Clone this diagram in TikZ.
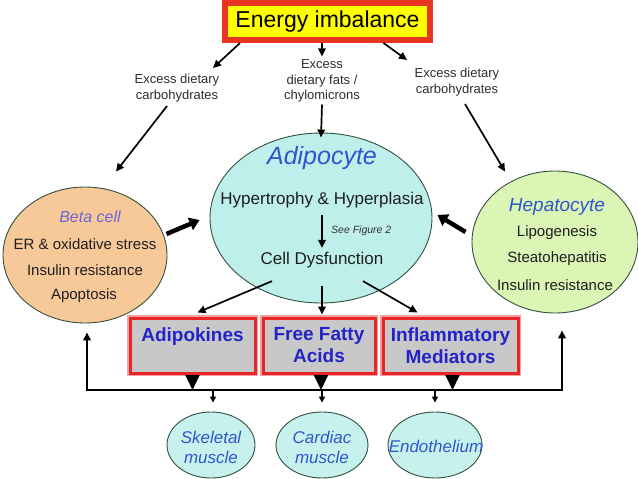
\documentclass[tikz,border=0pt]{standalone}
\usepackage{fontspec}
\setmainfont{Liberation Sans}
\usetikzlibrary{arrows.meta,shapes.geometric,calc}
\definecolor{ered}{RGB}{232,52,32}
\definecolor{eyellow}{RGB}{255,255,0}
\definecolor{peach}{RGB}{248,201,152}
\definecolor{adipfill}{RGB}{190,239,234}
\definecolor{hepfill}{RGB}{218,245,180}
\definecolor{musfill}{RGB}{198,241,236}
\definecolor{cellline}{RGB}{50,80,65}
\definecolor{boxgray}{RGB}{200,200,200}
\definecolor{boxred}{RGB}{232,38,42}
\definecolor{boxglow}{RGB}{245,160,160}
\definecolor{boxblue}{RGB}{35,35,200}
\definecolor{titleblue}{RGB}{50,85,205}
\definecolor{betablue}{RGB}{105,100,215}
\definecolor{exgray}{RGB}{45,45,45}
\begin{document}
\begin{tikzpicture}[x=1pt,y=-1pt,
  txt/.style={inner sep=0pt, align=center},
  exlbl/.style={txt, text=exgray, font=\fontsize{13}{15.5}\selectfont},
  body/.style={txt, text=black!88, font=\fontsize{15}{18}\selectfont},
  cell/.style={ellipse, draw=cellline, line width=0.9pt, inner sep=0pt},
  arr/.style={line width=1.7pt, -{Triangle[length=8pt,width=7.5pt]}},
  thickarr/.style={line width=4.5pt, -{Triangle[length=10pt,width=13pt]}},
  boxarr/.style={line width=1.8pt, -{Triangle[length=15pt,width=14pt]}},
  smallarr/.style={line width=1.4pt, -{Triangle[length=6pt,width=6pt]}},
  medbox/.style={draw=boxred, line width=3pt, fill=boxgray, inner sep=0pt,
     minimum height=55pt, align=center, text=boxblue,
     font=\bfseries\fontsize{19}{22}\selectfont,
     preaction={draw=boxglow, line width=6pt}},
  musc/.style={cell, fill=musfill, minimum height=66pt},
  musctxt/.style={txt, text=titleblue, font=\itshape\fontsize{17}{20}\selectfont}
]
\useasboundingbox (0,0) rectangle (638,479);

% top box
\node[draw=ered, line width=6pt, fill=eyellow, minimum width=205pt, minimum height=37pt,
      inner sep=0pt, font=\fontsize{23}{26}\selectfont] (energy) at (327.5,21.5) {Energy imbalance};

% excess labels
\node[exlbl] (ex1) at (177,88) {Excess dietary\\carbohydrates};
\node[exlbl] (ex2) at (322,81) {Excess\\dietary fats /\\chylomicrons};
\node[exlbl] (ex3) at (457,82) {Excess dietary\\carbohydrates};

% cells
\node[cell, fill=adipfill, minimum width=222pt, minimum height=170pt] (adip) at (321,218) {};
\node[cell, fill=peach, minimum width=164pt, minimum height=136pt] (beta) at (85,255) {};
\node[cell, fill=hepfill, minimum width=166pt, minimum height=142pt] (hep) at (555,242) {};

% adipocyte text
\node[txt, text=titleblue, font=\itshape\fontsize{25}{28}\selectfont] (adiptitle) at (322,158) {Adipocyte};
\node[txt, text=black!88, font=\fontsize{17}{20}\selectfont] (hyp) at (322,200) {Hypertrophy \& Hyperplasia};
\node[txt, text=black!88, font=\fontsize{17}{20}\selectfont] (celld) at (322,260) {Cell Dysfunction};
\node[txt, text=black!80, font=\itshape\fontsize{10.5}{12}\selectfont, anchor=west] (seefig) at (331,231) {See Figure 2};

% beta cell text
\node[txt, text=betablue, font=\itshape\fontsize{16}{19}\selectfont] (betatitle) at (90,217) {Beta cell};
\node[body] (b1) at (85,244) {ER \& oxidative stress};
\node[body] (b2) at (85,270) {Insulin resistance};
\node[body] (b3) at (84,296) {Apoptosis};

% hepatocyte text
\node[txt, text=titleblue, font=\itshape\fontsize{19}{22}\selectfont] (heptitle) at (557,207) {Hepatocyte};
\node[body] (h1) at (557,233) {Lipogenesis};
\node[body] (h2) at (557,259) {Steatohepatitis};
\node[body] (h3) at (555,285) {Insulin resistance};

% mediator boxes
\node[medbox, minimum width=125pt] (adipok) at (192.5,345.5) {Adipokines\\\mbox{}};
\node[medbox, minimum width=112pt] (ffa) at (319,345.5) {Free Fatty\\Acids};
\node[medbox, minimum width=135pt] (infl) at (450.5,345.5) {Inflammatory\\Mediators};

% bottom targets
\node[musc, minimum width=88pt] (skel) at (211,445) {};
\node[musc, minimum width=92pt] (card) at (322,445) {};
\node[musc, minimum width=94pt] (endo) at (435,445) {};
\node[musctxt] (skeltxt) at (211,447) {Skeletal\\muscle};
\node[musctxt] (cardtxt) at (322,447) {Cardiac\\muscle};
\node[musctxt] (endotxt) at (436,446) {Endothelium};

% arrows from energy box
\draw[arr] ([xshift=18pt]energy.south west) -- ([xshift=36pt,yshift=6pt]ex1.north);
\draw[arr] ([xshift=-5.5pt]energy.south) -- ([yshift=3pt]ex2.north);
\draw[arr] ([xshift=56pt]energy.south) -- ([xshift=-50pt,yshift=8pt]ex3.north);

% arrows from labels to cells
\draw[arr] ([xshift=-10pt,yshift=-4pt]ex1.south) -- ([xshift=31pt,yshift=15pt]beta.north);
\draw[arr] ([yshift=-2pt]ex2.south) -- ([yshift=-5pt]adip.north);
\draw[arr] ([xshift=8pt,yshift=-8pt]ex3.south) -- ([xshift=-50pt,yshift=-1pt]hep.north);

% inside adipocyte
\draw[arr] ([yshift=-7pt]hyp.south) -- ([yshift=4pt]celld.north);

% thick arrows into adipocyte
\draw[thickarr] ([xshift=3pt]beta.15) -- ([xshift=-10pt,yshift=-2pt]adip.west);
\draw[thickarr] ([xshift=-6pt,yshift=10pt]hep.west) -- ([xshift=5pt,yshift=3pt]adip.east);

% adipocyte to mediators
\draw[arr] ([xshift=-50pt,yshift=-13pt]celld.south) -- ([xshift=5pt,yshift=4pt]adipok.north);
\draw[arr] ([yshift=-18pt]celld.south) -- ([xshift=3pt,yshift=2pt]ffa.north);
\draw[arr] ([xshift=41pt,yshift=-13pt]celld.south) -- ([xshift=-33pt,yshift=4pt]infl.north);

% bus
\coordinate (busL) at (87,390);
\coordinate (busR) at (562,390);
\draw[line width=1.8pt, {Triangle[length=8pt,width=7.5pt]}-{Triangle[length=8pt,width=7.5pt]}]
  ([yshift=-9pt]busL |- beta.south) -- (busL) -- (busR) -- ([yshift=-17pt]busR |- hep.south);

\draw[boxarr] (adipok.south) -- (adipok.south |- busL);
\draw[boxarr] ([xshift=2pt]ffa.south) -- ([xshift=2pt]ffa.south |- busL);
\draw[boxarr] ([xshift=2pt]infl.south) -- ([xshift=2pt]infl.south |- busL);

\draw[smallarr] ([xshift=2pt]skel.north |- busL) -- ([xshift=2pt,yshift=9pt]skel.north);
\draw[smallarr] (card.north |- busL) -- ([yshift=9pt]card.north);
\draw[smallarr] (endo.north |- busL) -- ([yshift=9pt]endo.north);
\end{tikzpicture}
\end{document}
